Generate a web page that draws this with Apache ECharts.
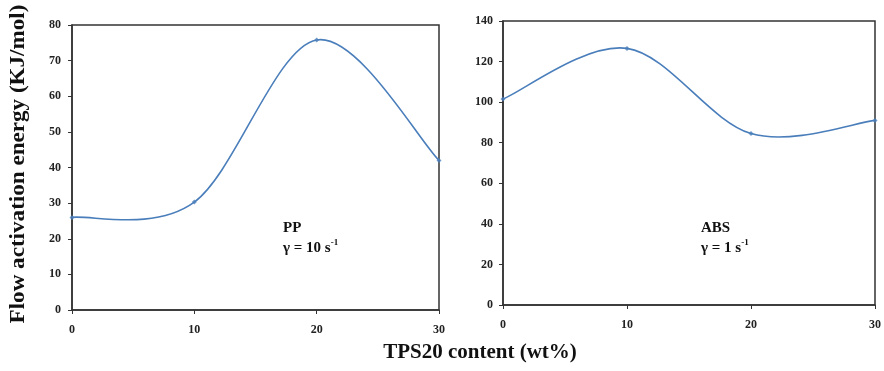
<!DOCTYPE html>
<html><head><meta charset="utf-8">
<script src="https://cdn.jsdelivr.net/npm/echarts@6/dist/echarts.min.js"></script>
<style>html,body{margin:0;padding:0;background:#fff}#c{width:884px;height:371px}</style>
</head><body><div id="c"></div>
<script>
const tpsContent = [0, 10, 20, 30];
const ppValues = [26, 30.3, 75.8, 42];
const absValues = [101.5, 126.5, 84.5, 91];
const xTicks = [0, 10, 20, 30];
const ppYTicks = [0, 10, 20, 30, 40, 50, 60, 70, 80];
const absYTicks = [0, 20, 40, 60, 80, 100, 120, 140];

const serif = '"Liberation Serif","DejaVu Serif",serif';
const lineColor = '#4a7ebb';
const axisColor = '#333';

function xAxis(gi, margin) {
  return {
    type: 'value', gridIndex: gi, min: xTicks[0], max: xTicks[xTicks.length - 1],
    interval: xTicks[1] - xTicks[0],
    axisLine: {show: true, lineStyle: {color: axisColor, width: 1.5}},
    axisTick: {show: true, length: 4, lineStyle: {color: axisColor}},
    splitLine: {show: false},
    axisLabel: {fontFamily: serif, fontWeight: 'bold', fontSize: 12, color: '#222', margin: margin}
  };
}
function yAxis(gi, ticks, margin) {
  return {
    type: 'value', gridIndex: gi, min: ticks[0], max: ticks[ticks.length - 1],
    interval: ticks[1] - ticks[0],
    axisLine: {show: true, lineStyle: {color: axisColor, width: 1.5}},
    axisTick: {show: true, length: 4, lineStyle: {color: axisColor}},
    splitLine: {show: false},
    axisLabel: {fontFamily: serif, fontWeight: 'bold', fontSize: 12, color: '#222', margin: margin}
  };
}
// Excel-style smoothed line (Catmull-Rom -> Bezier) through the data points, via the axes' scales
function curveSeries(gi, vals) {
  return {
    type: 'custom', coordinateSystem: 'cartesian2d', xAxisIndex: gi, yAxisIndex: gi,
    data: tpsContent.map((x, i) => [x, vals[i]]),
    clip: false, silent: true,
    renderItem: function (params, api) {
      const i = params.dataIndexInside;
      const n = params.dataInsideLength;
      if (i >= n - 1) return {type: 'group', children: []};
      const P = k => {
        k = Math.max(0, Math.min(n - 1, k));
        return api.coord([api.value(0, k), api.value(1, k)]);
      };
      const p0 = P(i - 1), p1 = P(i), p2 = P(i + 1), p3 = P(i + 2);
      return {
        type: 'bezierCurve',
        shape: {
          x1: p1[0], y1: p1[1], x2: p2[0], y2: p2[1],
          cpx1: p1[0] + (p2[0] - p0[0]) / 6, cpy1: p1[1] + (p2[1] - p0[1]) / 6,
          cpx2: p2[0] - (p3[0] - p1[0]) / 6, cpy2: p2[1] - (p3[1] - p1[1]) / 6
        },
        style: {stroke: lineColor, lineWidth: 1.6, fill: null}
      };
    }
  };
}
function markerSeries(gi, vals) {
  return {
    type: 'scatter', xAxisIndex: gi, yAxisIndex: gi,
    data: tpsContent.map((x, i) => [x, vals[i]]),
    symbol: 'diamond', symbolSize: 5, clip: false,
    itemStyle: {color: lineColor}
  };
}
function annot(left, top, name, rate) {
  return {
    type: 'text', left: left, top: top,
    style: {
      text: '{b|' + name + '}\n{b|γ = ' + rate + ' s}{s|-1}',
      rich: {
        b: {fontFamily: serif, fontWeight: 'bold', fontSize: 15, fill: '#111', lineHeight: 20},
        s: {fontFamily: serif, fontWeight: 'bold', fontSize: 9, fill: '#111', verticalAlign: 'top', lineHeight: 20, padding: [0, 0, 7, 0]}
      }
    }
  };
}

const chart = echarts.init(document.getElementById('c'), null, {renderer: 'canvas'});
chart.setOption({
  animation: false,
  grid: [
    {left: 72, right: 445, top: 25, bottom: 61, show: true, borderColor: axisColor, borderWidth: 1.5, backgroundColor: 'transparent'},
    {left: 503, right: 7, top: 21, bottom: 66, show: true, borderColor: axisColor, borderWidth: 1.5, backgroundColor: 'transparent'}
  ],
  xAxis: [xAxis(0, 14), xAxis(1, 14)],
  yAxis: [yAxis(0, ppYTicks, 11), yAxis(1, absYTicks, 10)],
  series: [curveSeries(0, ppValues), markerSeries(0, ppValues), curveSeries(1, absValues), markerSeries(1, absValues)],
  graphic: [
    annot(283, 221, 'PP', '10'),
    annot(701, 221, 'ABS', '1'),
    {type: 'text', x: 480, y: 342, style: {text: 'TPS20 content (wt%)', fontFamily: serif, fontWeight: 'bold', fontSize: 21, fill: '#111', align: 'center', verticalAlign: 'top'}},
    {type: 'text', x: 8, y: 164, rotation: Math.PI / 2, scaleX: 1.1, style: {text: 'Flow activation energy (KJ/mol)', fontFamily: serif, fontWeight: 'bold', fontSize: 21, fill: '#111', align: 'center', verticalAlign: 'top'}}
  ]
});
</script></body></html>
